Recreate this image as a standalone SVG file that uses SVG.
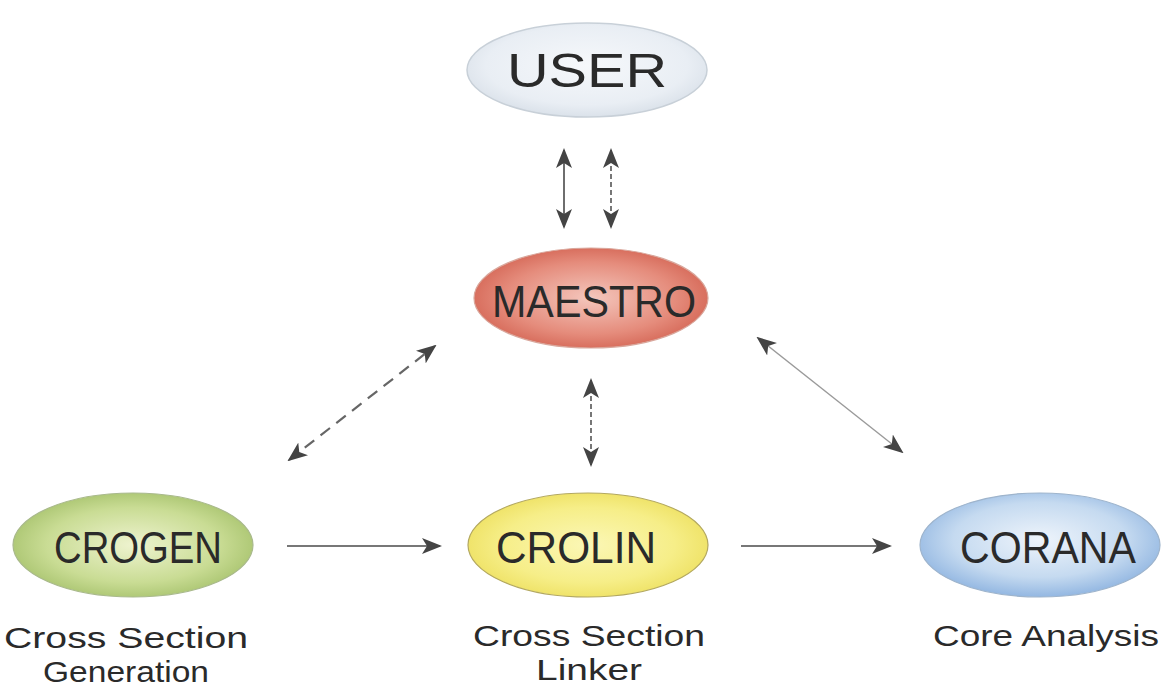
<svg xmlns="http://www.w3.org/2000/svg" width="1167" height="688" viewBox="0 0 1167 688">
<style>
.lbl{font-family:"Liberation Sans","DejaVu Sans",sans-serif;fill:#2a2a2a;text-anchor:middle}
.node{font-size:44px}
.sub{font-size:30px}
.ln{stroke:#4a4a4a;stroke-width:1.6;fill:none}
.lt{stroke:#9a9a9a;stroke-width:1.4;fill:none}
.ds{stroke:#666;stroke-width:2.2;fill:none;stroke-dasharray:12 8}
.dv{stroke:#555;stroke-width:1.6;fill:none;stroke-dasharray:5 3}
</style>
<defs>
<marker id="ah" viewBox="0 0 20 16" refX="18" refY="8" markerWidth="20" markerHeight="16" markerUnits="userSpaceOnUse" orient="auto-start-reverse">
<path d="M0,0 L20,8 L0,16 L5,8 Z" fill="#444"/>
</marker>
<radialGradient id="gU" cx="0.5" cy="0.45" r="0.6"><stop offset="0" stop-color="#f6f8fb"/><stop offset="0.7" stop-color="#e9eef4"/><stop offset="1" stop-color="#d5dde6"/></radialGradient>
<radialGradient id="gM" cx="0.5" cy="0.5" r="0.6"><stop offset="0" stop-color="#f4c7bd"/><stop offset="0.6" stop-color="#e58c7c"/><stop offset="1" stop-color="#cf5a49"/></radialGradient>
<radialGradient id="gG" cx="0.5" cy="0.5" r="0.6"><stop offset="0" stop-color="#eef3cf"/><stop offset="0.6" stop-color="#c9dc94"/><stop offset="1" stop-color="#9dbb62"/></radialGradient>
<radialGradient id="gY" cx="0.5" cy="0.5" r="0.6"><stop offset="0" stop-color="#fbf7b6"/><stop offset="0.6" stop-color="#f6ee88"/><stop offset="1" stop-color="#ebdc55"/></radialGradient>
<radialGradient id="gB" cx="0.5" cy="0.45" r="0.6"><stop offset="0" stop-color="#eef4fb"/><stop offset="0.6" stop-color="#c5daf0"/><stop offset="1" stop-color="#86aede"/></radialGradient>
</defs>
<rect width="1167" height="688" fill="#ffffff"/>
<g id="connectors">
<line class="ln" x1="564" y1="150" x2="564" y2="227" marker-start="url(#ah)" marker-end="url(#ah)"/>
<line class="dv" x1="611" y1="150" x2="611" y2="227" marker-start="url(#ah)" marker-end="url(#ah)"/>
<line class="ds" x1="289" y1="460" x2="435" y2="346" marker-start="url(#ah)" marker-end="url(#ah)"/>
<line class="dv" x1="591" y1="380" x2="591" y2="465" marker-start="url(#ah)" marker-end="url(#ah)"/>
<line class="lt" x1="758" y1="338" x2="902" y2="452" marker-start="url(#ah)" marker-end="url(#ah)"/>
<line class="ln" x1="287" y1="546" x2="440" y2="546" marker-end="url(#ah)"/>
<line class="ln" x1="741" y1="546" x2="890" y2="546" marker-end="url(#ah)"/>
</g>
<g id="user">
<ellipse cx="587" cy="70" rx="120" ry="47" fill="url(#gU)" stroke="#c8d0d8" stroke-width="1.5"/>
<text class="lbl" x="587" y="87" font-size="48" textLength="160" lengthAdjust="spacingAndGlyphs">USER</text>
</g>
<g id="maestro">
<ellipse cx="591" cy="298" rx="117" ry="50" fill="url(#gM)" stroke="#d9a79c" stroke-width="1.2"/>
<text class="lbl node" x="594" y="317" textLength="204" lengthAdjust="spacingAndGlyphs">MAESTRO</text>
</g>
<g id="crogen">
<ellipse cx="133" cy="545" rx="120" ry="52" fill="url(#gG)" stroke="#a9b98c" stroke-width="1.2"/>
<text class="lbl node" x="138" y="563" textLength="168" lengthAdjust="spacingAndGlyphs">CROGEN</text>
<text class="lbl sub" x="126" y="648" textLength="244" lengthAdjust="spacingAndGlyphs">Cross Section</text>
<text class="lbl sub" x="126" y="682" textLength="166" lengthAdjust="spacingAndGlyphs">Generation</text>
</g>
<g id="crolin">
<ellipse cx="588" cy="545" rx="120" ry="52" fill="url(#gY)" stroke="#b3a860" stroke-width="1.2"/>
<text class="lbl node" x="576" y="563" textLength="160" lengthAdjust="spacingAndGlyphs">CROLIN</text>
<text class="lbl sub" x="589" y="646" textLength="232" lengthAdjust="spacingAndGlyphs">Cross Section</text>
<text class="lbl sub" x="589" y="680" textLength="106" lengthAdjust="spacingAndGlyphs">Linker</text>
</g>
<g id="corana">
<ellipse cx="1040" cy="545" rx="120" ry="52" fill="url(#gB)" stroke="#9eb4cc" stroke-width="1.2"/>
<text class="lbl node" x="1048" y="563" textLength="176" lengthAdjust="spacingAndGlyphs">CORANA</text>
<text class="lbl sub" x="1046" y="646" textLength="226" lengthAdjust="spacingAndGlyphs">Core Analysis</text>
</g>
</svg>
